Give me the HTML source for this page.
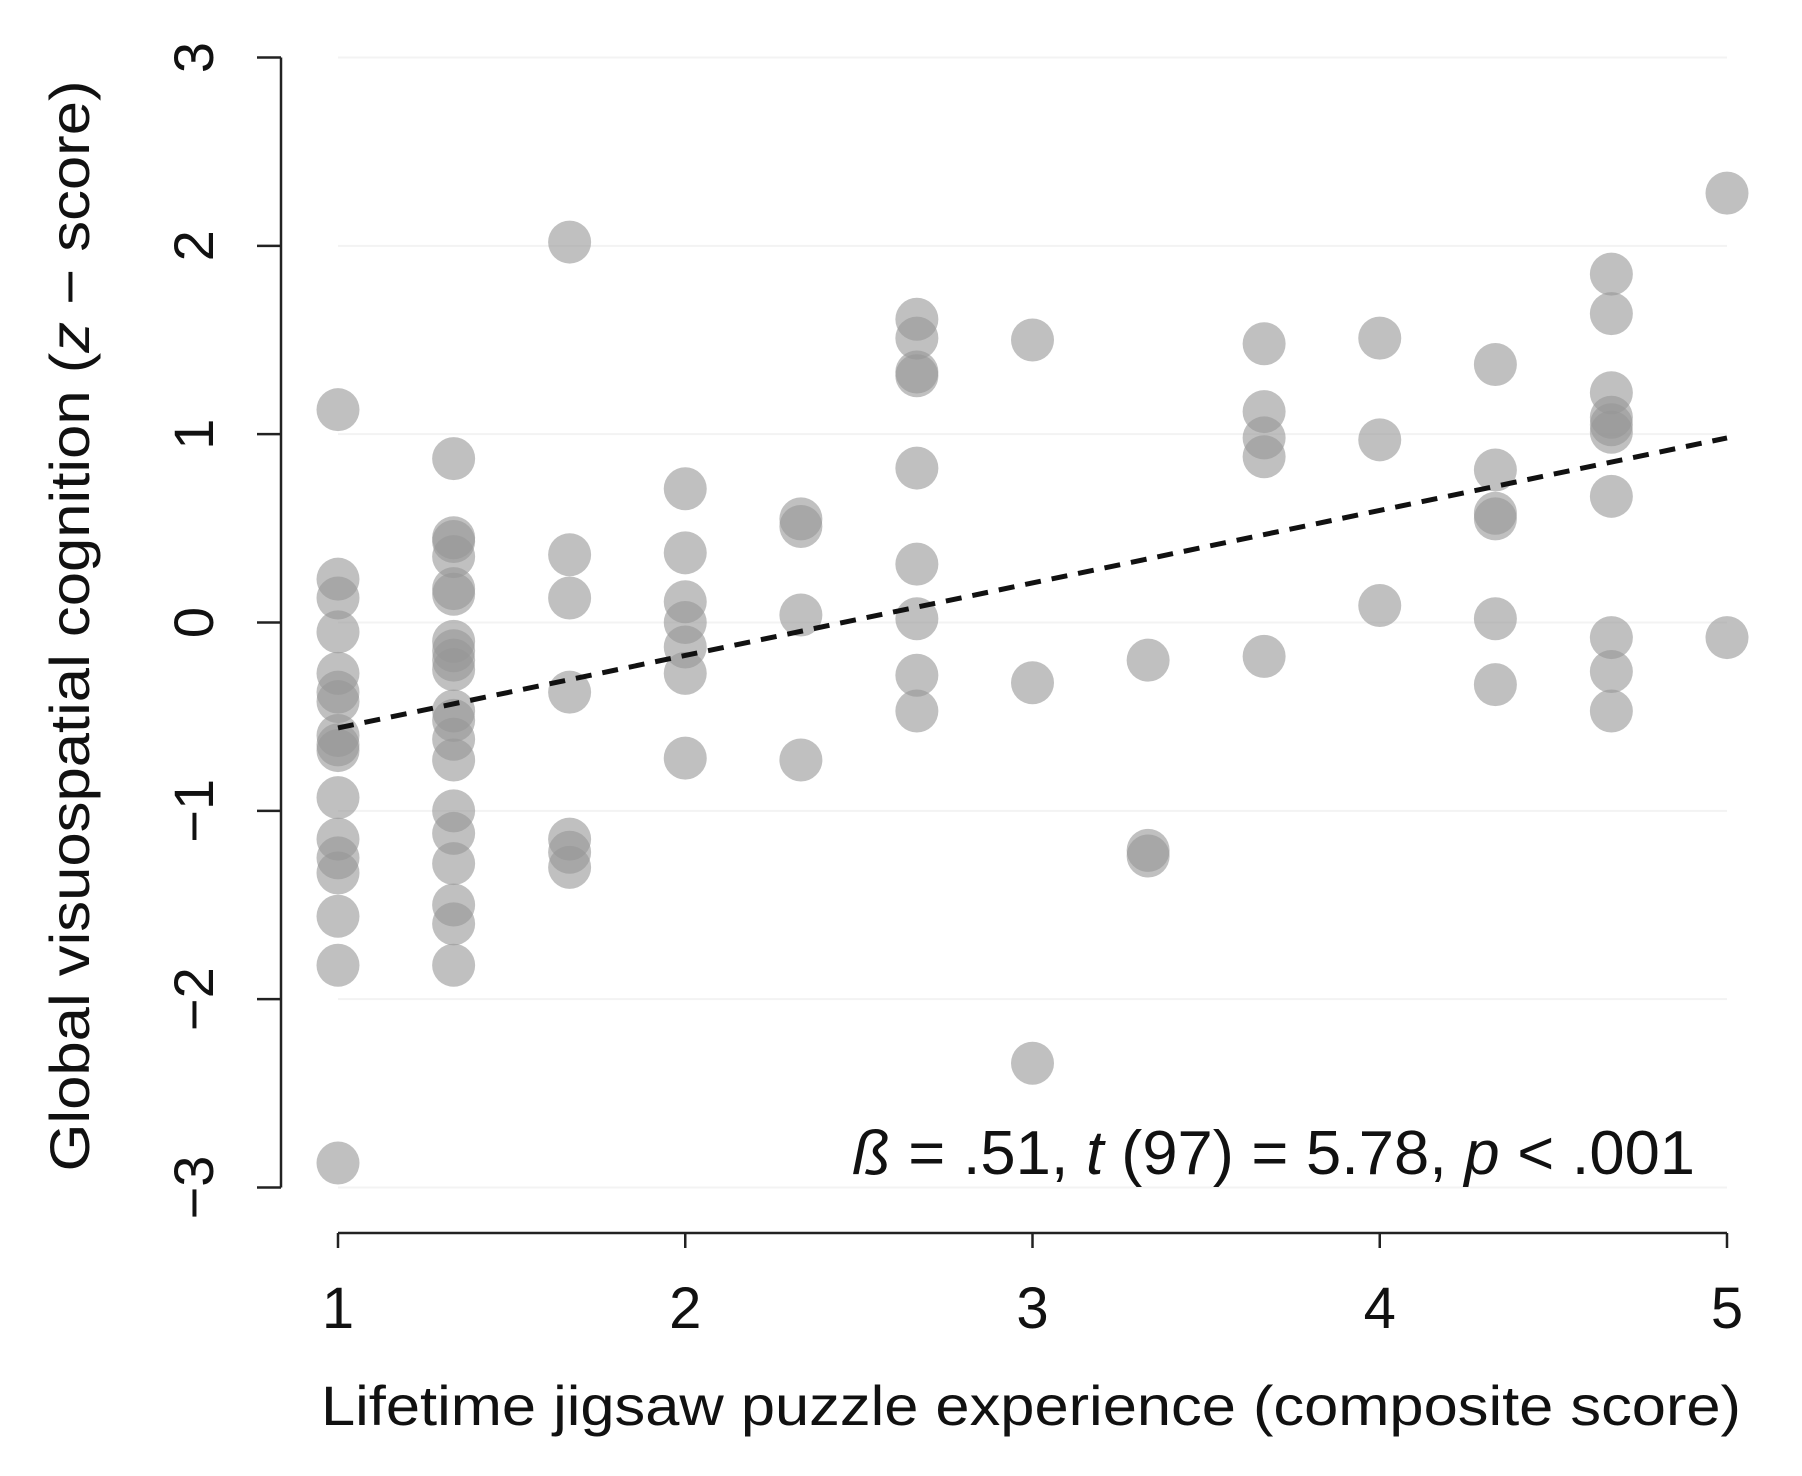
<!DOCTYPE html>
<html><head><meta charset="utf-8"><style>
html,body{margin:0;padding:0;background:#fff;}
svg{display:block;font-family:"Liberation Sans",Arial,sans-serif;}
</style></head><body>
<svg id="chart" width="1802" height="1476" viewBox="0 0 1802 1476" xmlns="http://www.w3.org/2000/svg">
<g id="grid"></g>
<g id="points"></g>
<g id="axes"></g>
<text x="1031" y="1425" font-size="56" text-anchor="middle" textLength="1420" lengthAdjust="spacingAndGlyphs" fill="#111">Lifetime jigsaw puzzle experience (composite score)</text>
<text transform="translate(89,626) rotate(-90)" font-size="56" text-anchor="middle" textLength="1091" lengthAdjust="spacingAndGlyphs" fill="#111">Global visuospatial cognition  (<tspan font-style="italic">z</tspan> − score)</text>
<text x="852" y="1174" font-size="62" textLength="843" lengthAdjust="spacingAndGlyphs" fill="#111"><tspan font-style="italic">ß</tspan>  = .51, <tspan font-style="italic">t</tspan> (97) = 5.78,  <tspan font-style="italic">p</tspan> &lt; .001</text>
</svg>
<script>
const xCats = [1,1.333,1.667,2,2.333,2.667,3,3.333,3.667,4,4.333,4.667,5];
const yGroups = [
 [1.13,0.23,0.13,-0.05,-0.27,-0.37,-0.42,-0.6,-0.65,-0.68,-0.93,-1.15,-1.25,-1.33,-1.56,-1.82,-2.87],
 [0.87,0.45,0.43,0.35,0.18,0.15,-0.1,-0.15,-0.2,-0.25,-0.47,-0.52,-0.62,-0.73,-1.0,-1.12,-1.28,-1.5,-1.6,-1.82],
 [2.02,0.36,0.13,-0.37,-1.15,-1.22,-1.3],
 [0.71,0.37,0.11,0.0,-0.13,-0.27,-0.72],
 [0.55,0.51,0.04,-0.73],
 [1.61,1.51,1.33,1.31,0.82,0.31,0.02,-0.28,-0.47],
 [1.5,-0.32,-2.34],
 [-0.2,-1.21,-1.24],
 [1.48,1.12,0.98,0.88,-0.18],
 [1.51,0.97,0.09],
 [1.37,0.81,0.58,0.55,0.02,-0.33],
 [1.85,1.64,1.22,1.09,1.05,1.01,0.67,-0.08,-0.26,-0.47],
 [2.28,-0.08]
];
const xTicks = [1,2,3,4,5];
const yTicks = [-3,-2,-1,0,1,2,3];
const yTickLabels = ["−3","−2","−1","0","1","2","3"];
const fitStart = [1,-0.56];
const fitEnd = [5,0.98];

const NS="http://www.w3.org/2000/svg";
const sx = v => 338 + (v-1)*(1727-338)/4;
const sy = v => 57.5 + (3-v)*(1187.5-57.5)/6;
function mk(tag, attrs, parent){const e=document.createElementNS(NS,tag);for(const k in attrs)e.setAttribute(k,attrs[k]);parent.appendChild(e);return e;}
const grid=document.getElementById('grid'), pts=document.getElementById('points'), axes=document.getElementById('axes');

yTicks.forEach(t=>{
  const l=mk('line',{x1:338,x2:1727,y1:sy(t),y2:sy(t),stroke:'#f3f3f3','stroke-width':2},grid);
  
  
});

xCats.forEach((x,i)=>{
  yGroups[i].forEach(y=>{
    const c=mk('circle',{cx:sx(x),cy:sy(y),r:21.5,fill:'rgba(150,150,150,0.6)'},pts);
    
    
  });
});

const fit=mk('line',{x1:sx(fitStart[0]),y1:sy(fitStart[1]),x2:sx(fitEnd[0]),y2:sy(fitEnd[1]),stroke:'#111','stroke-width':5,'stroke-dasharray':'16,11'},pts);



const ya=mk('line',{x1:281,x2:281,y1:sy(3),y2:sy(-3),stroke:'#222','stroke-width':2.5},axes);


yTicks.forEach((t,i)=>{
  const tk=mk('line',{x1:257,x2:281,y1:sy(t),y2:sy(t),stroke:'#222','stroke-width':2.5},axes);
  
  
  const tx=mk('text',{transform:`translate(213,${sy(t)}) rotate(-90)`,'font-size':56,'text-anchor':'middle',fill:'#111'},axes);
  tx.textContent=yTickLabels[i];
  
  
});
const xa=mk('line',{x1:sx(1),x2:sx(5),y1:1233,y2:1233,stroke:'#222','stroke-width':2.5},axes);


xTicks.forEach(t=>{
  const tk=mk('line',{x1:sx(t),x2:sx(t),y1:1233,y2:1248,stroke:'#222','stroke-width':2.5},axes);
  
  
  const tx=mk('text',{x:sx(t),y:1328,'font-size':58,'text-anchor':'middle',fill:'#111'},axes);
  tx.textContent=String(t);
  
  
});
</script>
</body></html>
